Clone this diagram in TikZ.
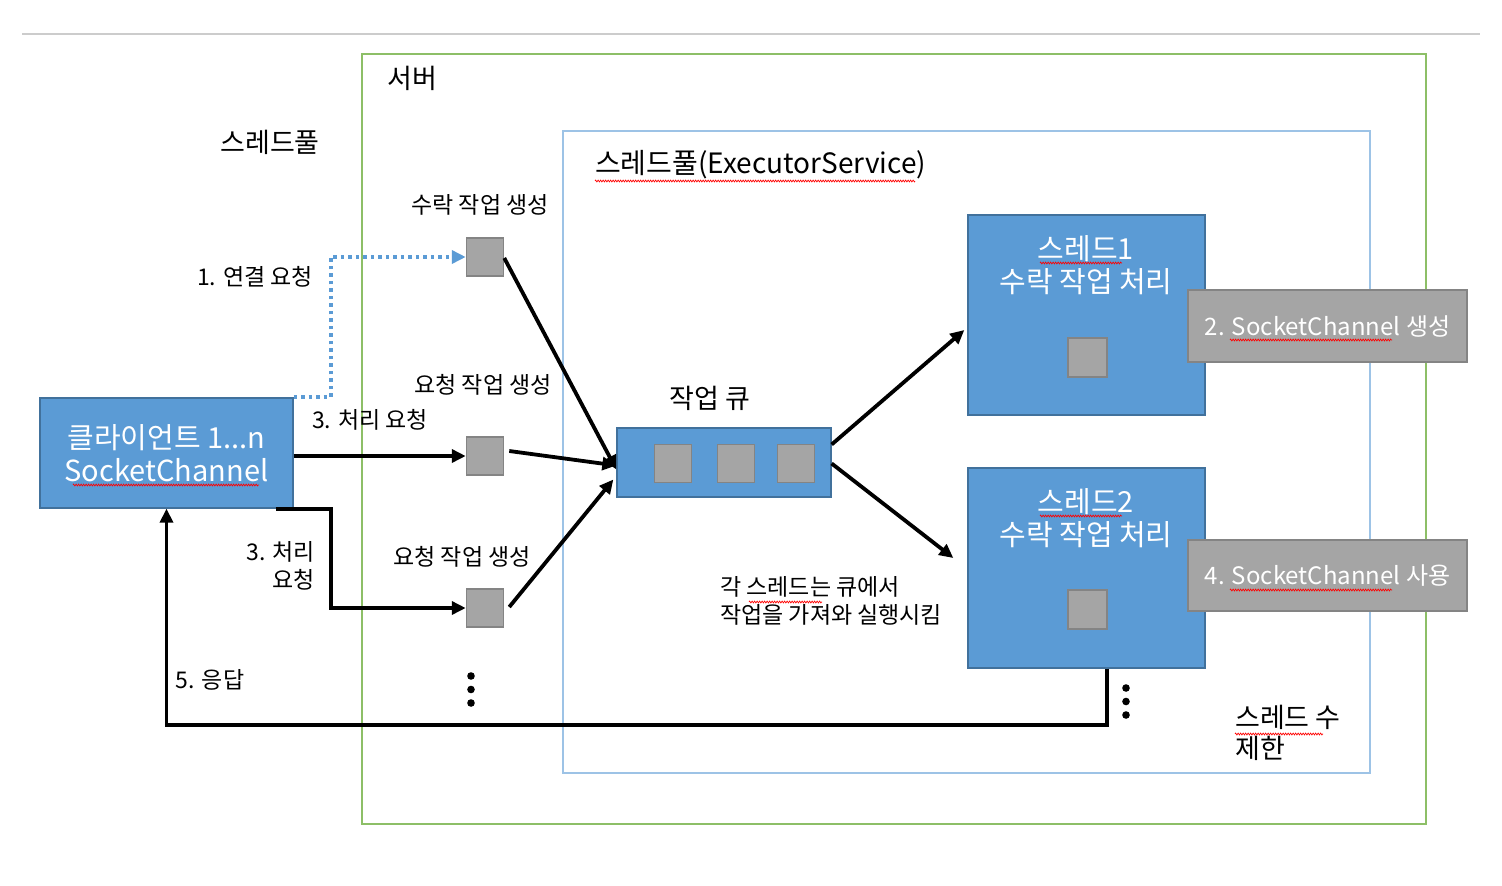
\documentclass[tikz,border=0pt]{standalone}
\usepackage{fontspec}
\setmainfont{Noto Sans CJK KR}
\usetikzlibrary{arrows.meta,calc,decorations.pathmorphing}
\definecolor{ublue}{HTML}{5B9BD5}
\definecolor{ubluedark}{HTML}{41719C}
\definecolor{ugreen}{HTML}{8DBF67}
\definecolor{lblue}{HTML}{9DC3E6}
\definecolor{ugray}{HTML}{A5A5A5}
\definecolor{ugraydark}{HTML}{848484}
\definecolor{topgray}{HTML}{CCCCCC}
\tikzset{
  frame/.style={line width=2.2pt, inner sep=0pt, fill=none},
  sq/.style={draw=ugraydark, fill=ugray, line width=1.5pt, minimum width=37pt, minimum height=38pt, inner sep=0pt},
  bluebox/.style={draw=ubluedark, fill=ublue, line width=1.3pt, inner sep=0pt},
  graybox/.style={draw=ugraydark, fill=ugray, line width=1.5pt, inner sep=0pt, text=white, font=\fontsize{24}{28}\selectfont},
  small/.style={inner sep=0pt, font=\fontsize{23}{28}\selectfont},
  big/.style={inner sep=0pt, font=\fontsize{27}{31}\selectfont},
  boxtext/.style={inner sep=0pt, text=white, align=center, font=\fontsize{29}{33}\selectfont},
  conn/.style={line width=3.8pt, black, -{Triangle[length=14pt,width=13pt]}},
  dotconn/.style={line width=3.8pt, ublue, dash pattern=on 3.5pt off 4pt, -{Triangle[length=14pt,width=13pt]}},
  squig/.style={draw=red, line width=0.7pt, decorate, decoration={zigzag, segment length=2.5pt, amplitude=0.9pt}},
}
\begin{document}
\begin{tikzpicture}[x=1pt,y=-1pt]
\useasboundingbox (0,0) rectangle (1502,886);
\fill[white] (0,0) rectangle (1502,886);
\draw[topgray, line width=2.5pt] (22,34) -- (1480,34);

% frames
\node[frame, draw=ugreen, minimum width=1064pt, minimum height=770pt, anchor=north west] (server) at (361,53) {};
\node[frame, draw=lblue, minimum width=807pt, minimum height=642pt, anchor=north west] (pool) at (562,130) {};

% labels
\node[big] (lserver) at (412,78) {서버};
\node[big] (lpool) at (270,142) {스레드풀};
\node[inner sep=0pt, anchor=west, font=\fontsize{28}{32}\selectfont] (lexec) at (595,165) {스레드풀(ExecutorService)};
\node[small] (lacc) at (480,205) {수락 작업 생성};
\node[small] (lconn) at (255,277) {1. 연결 요청};
\node[small] (lreq1) at (483,385) {요청 작업 생성};
\node[small] (lproc1) at (370,420) {3. 처리 요청};
\node[small, anchor=east, align=right] (lproc2) at (315,566) {3. 처리\\요청};
\node[small] (lreq2) at (462,557) {요청 작업 생성};
\node[inner sep=0pt, font=\fontsize{27}{31}\selectfont] (lqueue) at (710,398) {작업 큐};
\node[small, anchor=west, align=left] (ldesc) at (720,601) {각 스레드는 큐에서\\작업을 가져와 실행시킴};
\node[small] (lresp) at (210,680) {5. 응답};
\node[big, anchor=west, align=left] (llimit) at (1235,733) {스레드 수\\제한};

% client
\node[bluebox, minimum width=253pt, minimum height=110pt] (client) at (166.5,453) {};
\node[boxtext] (ctext) at (166.5,453) {클라이언트 1...n\\SocketChannel};

% task squares
\node[sq] (s1) at (485,257) {};
\node[sq] (s2) at (485,456) {};
\node[sq] (s3) at (485,608) {};

% queue
\node[bluebox, minimum width=214pt, minimum height=69pt] (q) at (724,462.5) {};
\node[sq] (qa) at (673,463.5) {};
\node[sq] (qb) at (736,463.5) {};
\node[sq] (qc) at (796,463.5) {};

% threads
\node[bluebox, minimum width=237pt, minimum height=200pt] (t1) at (1086.5,315) {};
\node[boxtext] (t1text) at (1086,265) {스레드1\\수락 작업 처리};
\node[sq, minimum width=39pt, minimum height=39pt] (t1s) at (1087.5,357.5) {};
\node[bluebox, minimum width=237pt, minimum height=200pt] (t2) at (1086.5,568) {};
\node[boxtext] (t2text) at (1086,518) {스레드2\\수락 작업 처리};
\node[sq, minimum width=39pt, minimum height=39pt] (t2s) at (1087.5,609.5) {};

\node[graybox, minimum width=279pt, minimum height=72pt] (g1) at (1327.5,326) {2. SocketChannel 생성};
\node[graybox, minimum width=279pt, minimum height=71pt] (g2) at (1327.5,575.5) {4. SocketChannel 사용};

% connectors
\draw[dotconn] (client.north east) -- ++(37,0) |- (s1.west);
\draw[conn] (s2.west -| client.east) -- (s2.west);
\draw[conn] ($(client.south east)+(-18,0)$) -- ++(55,0) |- (s3.west);
\draw[conn] ($(s1.east)+(0,1)$) -- ($(q.west)+(0,7)$);
\draw[conn] ($(s2.east)+(5,-5)$) -- ($(q.west)+(0,3)$);
\draw[conn] ($(s3.east)+(5,-1)$) -- ($(q.west)+(-3,17)$);
\draw[conn] ($(q.east)+(0,-18)$) -- ($(t1.west)+(-3,15)$);
\draw[conn] ($(q.east)+(0,1)$) -- ($(t2.west)+(-14,-10)$);
\coordinate (rb) at (1107,725);
\draw[conn] (t2.south -| rb) -- (rb) -| (client.south);

% ellipsis dots
\foreach \yy in {676,689.5,703} \fill (471,\yy) circle (3.8pt);
\foreach \yy in {688,701.5,715} \fill (1126,\yy) circle (3.8pt);

% spell-check squiggles
\draw[squig] (73,485) -- (259,485);
\draw[squig] (595,181) -- (915,181);
\draw[squig] (1040,263) -- (1122,263);
\draw[squig] (1040,516) -- (1122,516);
\draw[squig] (1230,340) -- (1392,340);
\draw[squig] (1230,590) -- (1392,590);
\draw[squig] (749,602) -- (822,602);
\draw[squig] (1235,734) -- (1323,734);
\end{tikzpicture}
\end{document}
